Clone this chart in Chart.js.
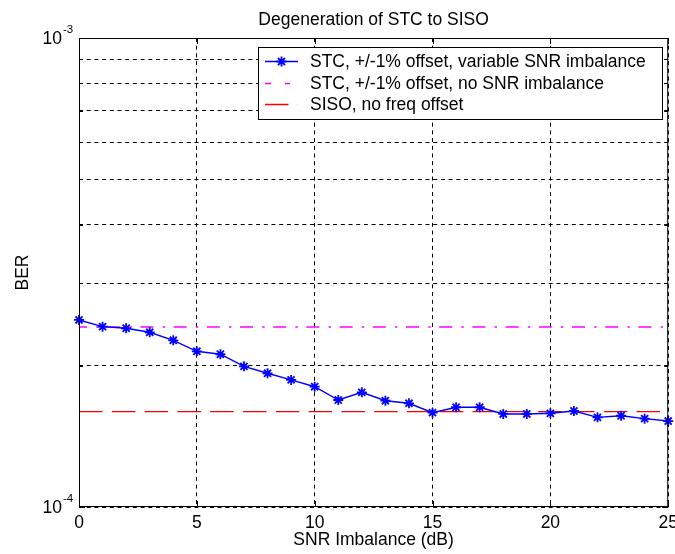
<!DOCTYPE html>
<html>
<head>
<meta charset="utf-8">
<title>Degeneration of STC to SISO</title>
<script src="https://cdn.jsdelivr.net/npm/chart.js@4.4.1/dist/chart.umd.min.js"></script>
<style>
  html, body { margin: 0; padding: 0; background: #fff; }
  canvas { display: block; }
</style>
</head>
<body>
<canvas id="chart" width="675" height="554"></canvas>
<script>
// values
const snrImbalance = [0, 1, 2, 3, 4, 5, 6, 7, 8, 9, 10, 11, 12, 13, 14, 15, 16, 17, 18, 19, 20, 21, 22, 23, 24, 25];
const stcVariableBER = [
  2.505e-4, 2.424e-4, 2.405e-4, 2.358e-4, 2.267e-4, 2.148e-4, 2.117e-4, 1.995e-4, 1.928e-4,
  1.866e-4, 1.805e-4, 1.691e-4, 1.756e-4, 1.685e-4, 1.664e-4, 1.589e-4, 1.632e-4, 1.632e-4,
  1.579e-4, 1.579e-4, 1.584e-4, 1.602e-4, 1.553e-4, 1.565e-4, 1.543e-4, 1.525e-4
];
const lineEnds = [0, 25];
const stcNoImbalanceBER = [2.42e-4, 2.42e-4];
const sisoBER = [1.597e-4, 1.597e-4];

const xTicks = [0, 5, 10, 15, 20, 25];
const yGridTicks = [1e-4, 2e-4, 3e-4, 4e-4, 5e-4, 6e-4, 7e-4, 8e-4, 9e-4, 1e-3];
const yLabelTicks = [1e-4, 1e-3];
const yLabelText = [['10', '-4'], ['10', '-3']];

const legendLabels = [
  'STC, +/-1% offset, variable SNR imbalance',
  'STC, +/-1% offset, no SNR imbalance',
  'SISO, no freq offset'
];
const titleText = 'Degeneration of STC to SISO';
const xTitle = 'SNR Imbalance (dB)';
const yTitle = 'BER';

const FONT = '"Liberation Sans", Arial, sans-serif';
const BLUE = '#0000ff', MAGENTA = '#ff00ff', RED = '#ff0000';
const DASH_DOT = [13, 9.2, 2.4, 8.6];
const LONG_DASH = [23.5, 9.3];

Chart.defaults.font.family = FONT;

const toPoints = (xs, ys) => xs.map((x, i) => ({ x, y: ys[i] }));

// MATLAB-style frame: box, inward ticks, labels, title and legend
const matlabFrame = {
  id: 'matlabFrame',
  afterDraw(chart) {
    const { ctx, chartArea: a, scales: { x, y } } = chart;
    ctx.save();

    // box
    ctx.strokeStyle = '#000';
    ctx.lineWidth = 1;
    ctx.setLineDash([]);
    ctx.strokeRect(a.left + 0.5, a.top + 0.5, a.right - a.left - 1, a.bottom - a.top - 1);

    // inward tick marks
    ctx.beginPath();
    xTicks.forEach(v => {
      const px = Math.round(x.getPixelForValue(v)) + 0.5;
      ctx.moveTo(px, a.bottom); ctx.lineTo(px, a.bottom - 6);
      ctx.moveTo(px, a.top); ctx.lineTo(px, a.top + 6);
    });
    yGridTicks.forEach(v => {
      const len = yLabelTicks.includes(v) ? 6 : 4;
      const py = Math.round(y.getPixelForValue(v)) + 0.5;
      ctx.moveTo(a.left, py); ctx.lineTo(a.left + len, py);
      ctx.moveTo(a.right, py); ctx.lineTo(a.right - len, py);
    });
    ctx.stroke();

    ctx.fillStyle = '#000';

    // x tick labels
    ctx.font = '17.5px ' + FONT;
    ctx.textAlign = 'center';
    ctx.textBaseline = 'alphabetic';
    xTicks.forEach(v => ctx.fillText(String(v), x.getPixelForValue(v), 528));

    // y tick labels with exponent
    yLabelTicks.forEach((v, i) => {
      const py = y.getPixelForValue(v);
      ctx.font = '17.5px ' + FONT;
      ctx.textAlign = 'right';
      ctx.fillText(yLabelText[i][0], 62, py + 6);
      ctx.font = '11.5px ' + FONT;
      ctx.textAlign = 'left';
      ctx.fillText(yLabelText[i][1], 63, py - 5);
    });

    // title and axis titles
    ctx.font = '17.5px ' + FONT;
    ctx.textAlign = 'center';
    ctx.fillText(titleText, (a.left + a.right) / 2, 25);
    ctx.fillText(xTitle, (a.left + a.right) / 2, 545);
    ctx.save();
    ctx.translate(28, (a.top + a.bottom) / 2);
    ctx.rotate(-Math.PI / 2);
    ctx.fillText(yTitle, 0, 0);
    ctx.restore();

    // legend
    const lx = 258.5, ly = 47.5, lw = 404, lh = 72;
    ctx.fillStyle = '#fff';
    ctx.fillRect(lx, ly, lw, lh);
    ctx.strokeStyle = '#000';
    ctx.lineWidth = 1;
    ctx.strokeRect(lx, ly, lw, lh);

    const rows = [67, 88.5, 110];
    const styles = [
      { color: BLUE, dash: [], offset: 0, marker: true },
      { color: MAGENTA, dash: [6, 14, 5, 20], offset: 0, marker: false },
      { color: RED, dash: LONG_DASH, offset: 0, marker: false }
    ];
    rows.forEach((base, i) => {
      const s = styles[i];
      const ly2 = Math.round(base - 6) + 0.5;
      ctx.strokeStyle = s.color;
      ctx.lineWidth = 1.4;
      ctx.setLineDash(s.dash);
      ctx.lineDashOffset = s.offset;
      ctx.beginPath();
      ctx.moveTo(265, ly2);
      ctx.lineTo(298, ly2);
      ctx.stroke();
      ctx.setLineDash([]);
      if (s.marker) {
        ctx.lineWidth = 1.8;
        Chart.helpers.drawPoint(ctx, { pointStyle: 'star', radius: 5, rotation: 0, borderWidth: 1.8 }, 281.5, ly2);
      }
      ctx.fillStyle = '#000';
      ctx.font = '17.5px ' + FONT;
      ctx.textAlign = 'left';
      ctx.fillText(legendLabels[i], 310, base);
    });

    ctx.restore();
  }
};

new Chart(document.getElementById('chart'), {
  type: 'line',
  data: {
    datasets: [
      {
        label: legendLabels[0],
        data: toPoints(snrImbalance, stcVariableBER),
        borderColor: BLUE,
        borderWidth: 1.4,
        pointStyle: 'star',
        pointRadius: 5,
        pointBorderWidth: 1.8,
        pointBorderColor: BLUE,
        pointBackgroundColor: BLUE,
        tension: 0,
        fill: false,
        clip: false
      },
      {
        label: legendLabels[1],
        data: toPoints(lineEnds, stcNoImbalanceBER),
        borderColor: MAGENTA,
        borderWidth: 1.4,
        borderDash: DASH_DOT,
        borderDashOffset: 5,
        pointRadius: 0,
        fill: false
      },
      {
        label: legendLabels[2],
        data: toPoints(lineEnds, sisoBER),
        borderColor: RED,
        borderWidth: 1.4,
        borderDash: LONG_DASH,
        pointRadius: 0,
        fill: false
      }
    ]
  },
  options: {
    responsive: false,
    animation: false,
    events: [],
    layout: { padding: { top: 38, right: 4, left: 0, bottom: 0 } },
    plugins: {
      legend: { display: false },
      title: { display: false },
      tooltip: { enabled: false }
    },
    scales: {
      x: {
        type: 'linear',
        min: 0,
        max: 25,
        ticks: { stepSize: 5, display: false },
        grid: { color: '#000', lineWidth: 1, drawTicks: false },
        border: { display: false, dash: [4, 3.7] },
        afterFit: s => { s.height = 47; s.paddingLeft = 0; s.paddingRight = 0; }
      },
      y: {
        type: 'logarithmic',
        min: 1e-4,
        max: 1e-3,
        ticks: { display: false },
        grid: { color: '#000', lineWidth: 1, drawTicks: false },
        border: { display: false, dash: [4, 3.7] },
        afterBuildTicks: s => { s.ticks = yGridTicks.map(v => ({ value: v })); },
        afterFit: s => { s.width = 79; }
      }
    }
  },
  plugins: [matlabFrame]
});
</script>
</body>
</html>
